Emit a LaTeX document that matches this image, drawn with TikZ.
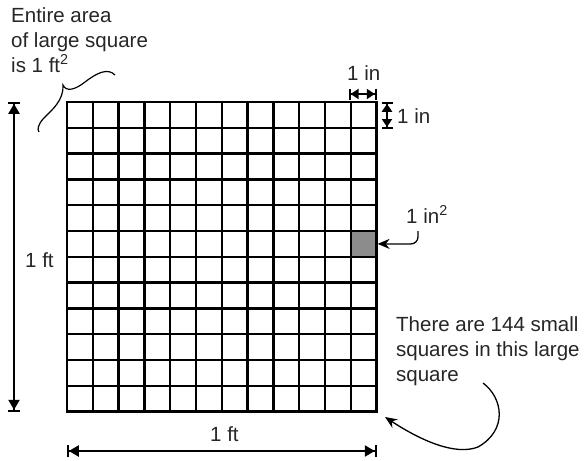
\documentclass[tikz,border=0pt]{standalone}
\usepackage{fontspec}
\setmainfont{Liberation Sans}
\usetikzlibrary{arrows.meta}
\tikzset{
    gridline/.style={line width=2.3pt},
    dimline/.style={line width=2.2pt,{Bar[width=12pt,line width=1.8pt]Triangle[length=10pt,width=11pt]}-{Triangle[length=10pt,width=11pt]Bar[width=12pt,line width=1.8pt]}},
    smalldim/.style={line width=2.2pt,{Bar[width=11pt,line width=1.8pt]Triangle[length=8pt,width=10pt]}-{Triangle[length=8pt,width=10pt]Bar[width=11pt,line width=1.8pt]}},
    pointer/.style={line width=1.3pt,-{Stealth[length=12pt,width=10pt]}},
    txt/.style={font=\fontsize{20.5}{25}\selectfont,text=black!85,inner sep=0pt,align=left}
}

\begin{document}
\begin{tikzpicture}[x=1pt,y=-1pt]
        \useasboundingbox (0,0) rectangle (587,461);
        \pgfmathsetmacro{\c}{25.8}
        % Small squares
        \fill[black!45] ({67+11*\c},{102+5*\c}) rectangle ++(\c,\c);
        \coordinate (unit) at ({67+12*\c+1},{102+5.5*\c});
        \foreach \i in {0,...,12}{
          \draw[gridline] ({67+\i*\c},102) -- ({67+\i*\c},{102+12*\c});
          \draw[gridline] (67,{102+\i*\c}) -- ({67+12*\c},{102+\i*\c});
          }
        \draw[gridline] (67,102) rectangle ({67+12*\c},{102+12*\c});
        % Dimensions
        \coordinate (lefttop) at (14,102);
        \coordinate (leftbot) at (14,{102+12*\c});
        \coordinate (botleft) at (67,451);
        \coordinate (botright) at ({67+12*\c},451);
        \coordinate (inleft) at ({67+11*\c-2},94);
        \coordinate (inright) at ({67+12*\c},94);
        \coordinate (intop) at (387,102);
        \coordinate (inbot) at (387,{102+\c+1});
        \draw[dimline] (lefttop) -- (leftbot);
        \draw[dimline] (botleft) -- (botright);
        \draw[smalldim] (inleft) -- (inright);
        \draw[smalldim] (intop) -- (inbot);
        \node[txt,anchor=base west] (leftft) at (25,267) {1 ft};
        \node[txt,anchor=base west] (botft) at (210,441) {1 ft};
        \node[txt,anchor=base] (inwidth) at ({67+11.5*\c},80) {1 in};
        \node[txt,anchor=base west] (inheight) at (397,123) {1 in};
        % Labels
        \node[txt,anchor=base west] (area) at (11,72) {Entire area\\of large square\\is 1 ft\textsuperscript{2}};
        \node[txt,anchor=base west] (unitlab) at (406,223) {1 in\textsuperscript{2}};
        \node[txt,anchor=base west] (count) at (396,381) {There are 144 small\\squares in this large\\square};
        \coordinate (unittail) at (418,231);
        \coordinate (counttail) at (483,383);
        \coordinate (counttip) at (385,417);
        \coordinate (bracetop) at (115,75);
        \draw[pointer,rounded corners=7pt] (unittail) |- (unit);
        \draw[pointer] (counttail) .. controls (503,398) and (508,430) .. (478,447) .. controls (455,456) and (420,440) .. (counttip);
        \draw[line width=1.2pt] (bracetop) .. controls (108,68) and (98,72) .. (85,82) .. controls (75,90) and (66,92) .. (63,85) .. controls (64,100) and (52,110) .. (44,118) .. controls (38,124) and (37,130) .. (39,132);
    \end{tikzpicture}
\end{document}
